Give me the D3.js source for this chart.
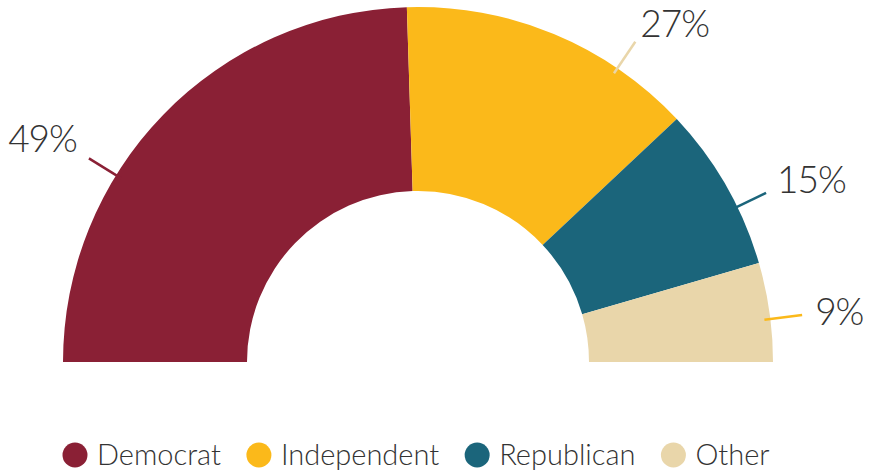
<!DOCTYPE html>
<html>
<head>
<meta charset="utf-8">
<script src="https://cdn.jsdelivr.net/npm/d3@7"></script>
<style>
  html, body { margin: 0; padding: 0; background: #ffffff; }
  svg { display: block; }
  text { font-family: "Lato", "Open Sans", sans-serif; fill: #333333; }
</style>
</head>
<body>
<svg id="chart" width="870" height="474"></svg>
<script>
// Party affiliation shares (percent)
const categories = ["Democrat", "Independent", "Republican", "Other"];
const values = [49, 27, 15, 9];
const colors = ["#8a2035", "#fbb91a", "#1b657b", "#e9d6aa"];

const svg = d3.select("#chart");
const cx = 418, cy = 362;
const outerR = 355, innerR = 171;

const pie = d3.pie().sort(null).value(d => d.value)
  .startAngle(-Math.PI / 2).endAngle(Math.PI / 2);
const data = pie(categories.map((c, i) => ({ name: c, value: values[i], color: colors[i] })));

const arc = d3.arc().innerRadius(innerR).outerRadius(outerR);

const g = svg.append("g").attr("transform", `translate(${cx},${cy})`);

g.selectAll("path.slice")
  .data(data)
  .join("path")
  .attr("class", "slice")
  .attr("d", arc)
  .attr("fill", d => d.data.color);

// Callouts: where along each slice the leader sits, its colour,
// and how the value text is offset from the leader's outer end
const leaderFrac = [0.36, 0.74, 0.64, 0.57];
const leaderColor = [colors[0], colors[3], colors[2], colors[1]];
const textNudge = [[-12, -6], [5, -5], [11, 0], [13, 10]];
const polar = (a, r) => [r * Math.sin(a), -r * Math.cos(a)];

data.forEach((d, i) => {
  const a = d.startAngle + leaderFrac[i] * (d.endAngle - d.startAngle);
  const p0 = polar(a, outerR - 6);
  const p1 = polar(a, outerR + 32);
  g.append("line")
    .attr("x1", p0[0]).attr("y1", p0[1])
    .attr("x2", p1[0]).attr("y2", p1[1])
    .attr("stroke", leaderColor[i])
    .attr("stroke-width", 2.5);
  g.append("text")
    .attr("x", p1[0] + textNudge[i][0])
    .attr("y", p1[1] + textNudge[i][1])
    .attr("text-anchor", a < 0 ? "end" : "start")
    .attr("font-size", 37)
    .attr("font-weight", 300)
    .attr("letter-spacing", -1)
    .text(d3.format("d")(d.data.value) + "%");
});

// Legend row
const legend = svg.append("g").attr("transform", "translate(0,455)");
const items = legend.selectAll("g.item")
  .data(data)
  .join("g")
  .attr("class", "item");
items.append("circle")
  .attr("r", 12.5)
  .attr("fill", d => d.data.color);
items.append("text")
  .attr("x", 22)
  .attr("y", 10)
  .attr("font-size", 29)
  .attr("font-weight", 300)
  .text(d => d.data.name);

// lay out legend items left-to-right from measured text widths
let x = 75;
items.each(function () {
  const w = d3.select(this).select("text").node().getComputedTextLength();
  d3.select(this).attr("transform", `translate(${x},0)`);
  x += 22 + w + 38;
});
</script>
</body>
</html>
